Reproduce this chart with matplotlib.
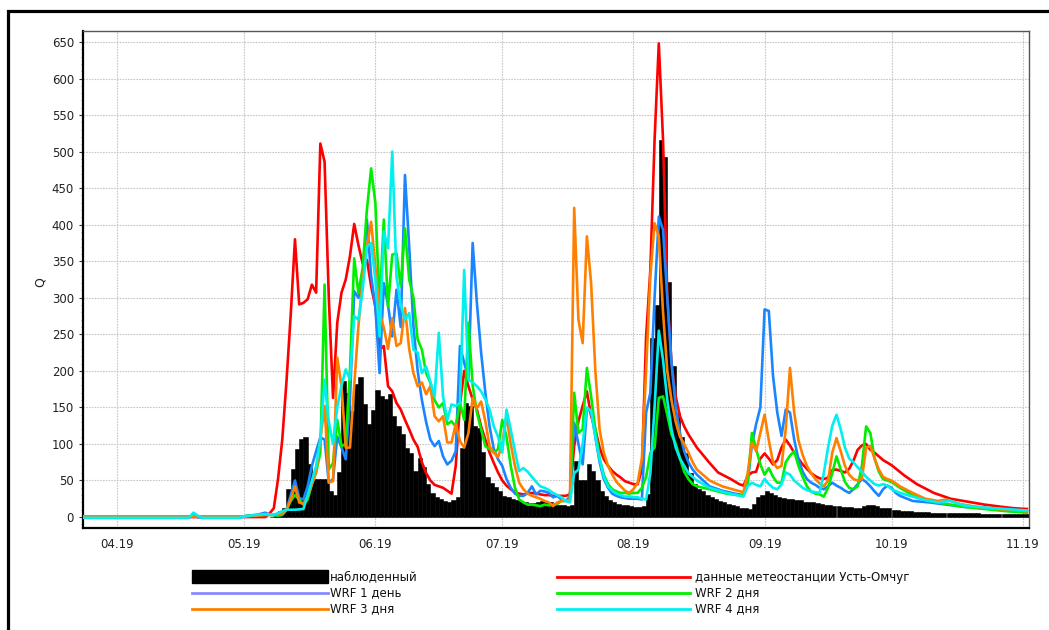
import numpy as np
import matplotlib
matplotlib.use('Agg')
import matplotlib.pyplot as plt
import matplotlib.dates as mdates
from matplotlib.patches import Rectangle
from matplotlib.lines import Line2D
from matplotlib.ticker import MultipleLocator

# ---------------- data (day offsets from 2019-04-01) ----------------
start_date = np.datetime64('2019-04-01')

obs_first_day = 36
obs_q = [0, 3, 8, 13, 38, 66, 93, 107, 110, 72, 52, 52, 52, 52, 35, 30, 62, 186, 170, 145,
         182, 192, 155, 127, 146, 174, 165, 161, 168, 138, 124, 113, 95, 88, 63, 81, 68, 45, 33, 28,
         24, 22, 21, 23, 27, 95, 156, 152, 124, 122, 89, 55, 46, 41, 36, 29, 27, 25, 23, 22,
         20, 19, 19, 20, 22, 21, 20, 18, 17, 17, 15, 16, 76, 51, 51, 72, 63, 51, 36, 29,
         23, 21, 18, 17, 16, 15, 14, 14, 15, 31, 245, 290, 516, 493, 322, 206, 143, 110, 88, 60,
         45, 38, 35, 30, 27, 24, 22, 20, 18, 17, 15, 13, 12, 11, 18, 28, 30, 36, 33, 30,
         28, 26, 25, 24, 23, 23, 21, 20, 20, 19, 18, 17, 16, 15, 15, 14, 14, 14, 13, 13,
         15, 16, 16, 15, 13, 12, 12, 9, 9, 8, 8, 8, 7, 7, 7, 7, 6, 6, 6, 6,
         6, 5, 5, 5, 5, 5, 5, 5, 4, 4, 4, 4, 4, 4, 4, 4, 4, 4, 4, 4]

red_days = [-8, 35, 36, 37, 38, 39, 40, 41, 42, 43, 44, 45, 46, 47, 48, 49, 50, 51, 52, 53, 54, 55, 56, 57, 58, 59,
            60, 61, 62, 63, 64, 65, 66, 67, 68, 69, 70, 71, 72, 73, 74, 75, 76, 77, 78, 79, 80, 81, 82, 83,
            84, 85, 86, 87, 88, 89, 90, 91, 92, 93, 94, 95, 96, 97, 98, 99, 100, 101, 102, 103, 104, 105, 106,
            107, 108, 109, 110, 111, 112, 113, 114, 115, 116, 117, 118, 119, 120, 121, 122, 123, 124, 125, 126,
            127, 128, 129, 130, 131, 132, 133, 134, 135, 136, 137, 138, 140, 142, 145, 147, 148, 149, 150, 151,
            152, 153, 154, 155, 156, 157, 158, 159, 160, 161, 162, 163, 164, 165, 166, 167, 168, 169, 170, 171,
            172, 173, 174, 175, 176, 177, 178, 179, 180, 181, 183, 186, 189, 193, 197, 201, 205, 209, 212, 215]
red_q = [0, 0, 5, 12, 52, 106, 186, 277, 380, 291, 293, 298, 318, 307, 511, 486, 300, 163, 266, 307, 325, 357, 401, 372, 347, 352,
         316, 288, 229, 234, 179, 172, 156, 147, 133, 120, 106, 96, 75, 60, 50, 44, 42, 40, 36, 32, 70, 154, 200, 179,
         161, 147, 124, 106, 88, 74, 61, 50, 43, 38, 34, 32, 31, 32, 33, 32, 31, 30, 30, 29, 29, 29, 29,
         31, 97, 131, 152, 172, 138, 120, 95, 79, 70, 63, 58, 54, 49, 47, 45, 45, 65, 247, 338,
         516, 648, 516, 306, 211, 165, 138, 124, 113, 104, 95, 88, 74, 61, 52, 45, 43, 56, 61, 62,
         80, 87, 80, 72, 78, 95, 106, 98, 88, 80, 72, 66, 60, 56, 53, 52, 54, 64, 65, 63,
         61, 66, 77, 92, 98, 100, 92, 88, 83, 78, 71, 57, 45, 33, 25, 21, 17, 14, 12, 11]

wrf1_days = [-8, 17, 18, 19, 20, 29, 30, 31, 33, 35, 36, 38, 39, 40, 41, 42, 43, 44, 45, 46, 47, 48, 49, 50, 51, 52, 53, 54,
             55, 56, 57, 58, 59, 60, 61, 62, 63, 64, 65, 66, 67, 68, 69, 70, 71, 72, 73, 74, 75, 76, 77, 78, 79, 80,
             81, 82, 83, 84, 85, 86, 87, 88, 89, 90, 91, 92, 93, 94, 95, 96, 97, 98, 99, 100, 101, 102, 103, 104,
             105, 106, 107, 108, 109, 110, 111, 112, 113, 114, 115, 116, 117, 118, 119, 120, 121, 122, 123, 124,
             125, 126, 127, 128, 129, 130, 131, 132, 133, 134, 135, 136, 137, 140, 143, 146, 148, 149, 150, 151,
             152, 153, 154, 155, 156, 157, 158, 159, 160, 161, 162, 163, 164, 165, 166, 167, 168, 169, 170, 171,
             172, 173, 174, 175, 176, 177, 178, 179, 180, 181, 182, 183, 184, 185, 188, 192, 196, 200, 205, 210, 215]
wrf1_q = [-1, -1, 4, 0, -1, -1, 1, 2, 3, 6, 3, 2, 3, 10, 30, 50, 26, 24, 42, 70, 90, 109, 106, 47, 52, 110, 95, 79,
          160, 309, 300, 320, 407, 330, 288, 197, 320, 290, 247, 311, 260, 468, 370, 261, 200, 160, 130, 106, 97, 104, 83, 72, 77, 90,
          234, 211, 190, 375, 293, 225, 170, 124, 93, 79, 70, 52, 40, 32, 29, 29, 33, 42, 31, 36, 35, 33, 27, 29,
          24, 22, 28, 129, 100, 72, 147, 145, 110, 75, 52, 40, 32, 29, 27, 26, 25, 25, 25, 24,
          143, 170, 300, 411, 393, 300, 211, 150, 115, 90, 75, 65, 58, 42, 36, 32, 30, 47, 99, 127,
          150, 284, 282, 193, 143, 111, 147, 143, 106, 79, 62, 52, 47, 44, 40, 38, 42, 47, 43, 40,
          36, 33, 38, 45, 52, 48, 42, 35, 29, 38, 43, 40, 33, 29, 22, 20, 17, 14, 12, 10, 8]

wrf2_days = [-8, 30, 32, 35, 37, 38, 39, 40, 41, 42, 43, 44, 45, 46, 47, 48, 49, 50, 51, 52, 53, 54, 55, 56, 57, 58, 59,
             60, 61, 62, 63, 64, 65, 66, 67, 68, 69, 70, 71, 72, 73, 74, 75, 76, 77, 78, 79, 80, 81, 82, 83, 84,
             85, 86, 87, 88, 89, 90, 91, 92, 93, 94, 95, 96, 97, 98, 99, 100, 101, 102, 103, 104, 105, 106, 107,
             108, 109, 110, 111, 112, 113, 114, 115, 116, 117, 118, 119, 120, 121, 122, 123, 124, 125, 126, 127,
             128, 129, 130, 131, 132, 133, 134, 135, 136, 137, 140, 144, 148, 149, 150, 151, 152, 153, 154, 155,
             156, 157, 158, 159, 160, 161, 162, 163, 164, 165, 166, 167, 168, 169, 170, 171, 172, 173, 174, 175,
             176, 177, 178, 179, 180, 181, 182, 183, 185, 188, 192, 196, 200, 205, 210, 215]
wrf2_q = [1, 1, 2, 3, 3, 2, 3, 10, 22, 30, 24, 17, 24, 45, 61, 88, 318, 65, 74, 133, 97, 100, 200, 354, 306, 341, 420,
          477, 430, 288, 407, 288, 359, 361, 316, 395, 325, 300, 243, 229, 197, 184, 160, 150, 156, 127, 131, 124, 156, 133, 266, 180,
          143, 120, 97, 93, 88, 93, 133, 110, 70, 40, 24, 20, 17, 17, 16, 15, 17, 16, 17, 18, 22, 22, 24,
          170, 115, 120, 204, 165, 120, 80, 58, 45, 38, 35, 33, 33, 32, 33, 33, 40, 55, 88, 95,
          163, 165, 140, 113, 100, 80, 62, 52, 45, 42, 38, 32, 29, 45, 115, 93, 72, 58, 67, 55,
          47, 47, 75, 84, 90, 70, 55, 42, 35, 32, 31, 28, 40, 60, 83, 65, 48, 40, 38, 42,
          70, 124, 115, 80, 62, 52, 50, 48, 40, 30, 22, 18, 14, 11, 8, 6]

wrf3_days = [-8, 30, 33, 35, 37, 39, 40, 41, 42, 43, 44, 45, 46, 47, 48, 49, 50, 51, 52, 53, 54, 55, 56, 57, 58, 59,
             60, 61, 62, 63, 64, 65, 66, 67, 68, 69, 70, 71, 72, 73, 74, 75, 76, 77, 78, 79, 80, 81, 82, 83, 84,
             85, 86, 87, 88, 89, 90, 91, 92, 93, 94, 95, 96, 97, 98, 99, 100, 101, 102, 103, 104, 105, 106, 107,
             108, 109, 110, 111, 112, 113, 114, 115, 116, 117, 118, 119, 120, 121, 122, 123, 124, 125, 126, 127,
             128, 129, 130, 131, 132, 133, 134, 135, 136, 137, 140, 143, 146, 148, 149, 150, 151, 152, 153, 154,
             155, 156, 157, 158, 159, 160, 161, 162, 163, 164, 165, 166, 167, 168, 169, 170, 171, 172, 173, 174,
             175, 176, 177, 178, 179, 180, 181, 182, 183, 185, 188, 191, 194, 196, 199, 203, 208, 215]
wrf3_q = [1, 1, 2, 3, 3, 5, 10, 24, 42, 20, 18, 28, 45, 61, 106, 152, 47, 49, 218, 179, 95, 95, 180, 261, 325, 370,
          404, 343, 280, 259, 230, 272, 234, 238, 286, 230, 197, 179, 184, 168, 179, 138, 131, 138, 102, 102, 127, 104, 95, 115, 163,
          149, 158, 131, 97, 88, 82, 100, 138, 100, 70, 47, 38, 32, 29, 27, 25, 22, 20, 15, 20, 22, 22, 24,
          423, 270, 238, 384, 320, 200, 120, 88, 70, 58, 48, 42, 36, 33, 38, 47, 80, 200, 330, 402,
          384, 280, 200, 160, 130, 110, 100, 88, 75, 65, 50, 42, 37, 34, 60, 102, 90, 115, 140, 105,
          75, 67, 70, 120, 204, 143, 105, 85, 70, 60, 52, 46, 42, 50, 88, 108, 90, 70, 58, 52,
          50, 52, 95, 97, 80, 65, 55, 52, 50, 42, 33, 25, 22, 24, 18, 14, 11, 8]

wrf4_days = [-8, 17, 18, 19, 20, 29, 30, 33, 35, 37, 39, 40, 42, 44, 45, 46, 47, 48, 49, 50, 51, 52, 53, 54, 55, 56, 57,
             58, 59, 60, 61, 62, 63, 64, 65, 66, 67, 68, 69, 70, 71, 72, 73, 74, 75, 76, 77, 78, 79, 80, 81, 82,
             83, 84, 85, 86, 87, 88, 89, 90, 91, 92, 93, 94, 95, 96, 97, 98, 99, 100, 101, 102, 103, 104, 105,
             106, 107, 108, 109, 110, 111, 112, 113, 114, 115, 116, 117, 118, 119, 120, 121, 122, 123, 124, 125,
             126, 127, 128, 129, 130, 131, 132, 133, 134, 135, 136, 137, 140, 144, 148, 149, 150, 151, 152, 153,
             154, 155, 156, 157, 158, 159, 160, 161, 162, 163, 164, 165, 166, 167, 168, 169, 170, 171, 172, 173,
             174, 175, 176, 177, 178, 179, 180, 181, 182, 183, 185, 188, 191, 194, 197, 200, 205, 210, 215]
wrf4_q = [-1, -1, 6, 2, -1, -1, 1, 3, 4, 3, 8, 10, 10, 11, 30, 50, 70, 106, 188, 130, 100, 150, 180, 202, 188, 275, 270,
          310, 370, 375, 325, 247, 391, 368, 500, 329, 290, 270, 279, 229, 225, 197, 206, 185, 165, 252, 165, 133, 154, 152, 156, 338,
          188, 184, 179, 172, 161, 147, 124, 110, 88, 147, 120, 90, 63, 67, 62, 55, 48, 42, 40, 37, 33, 30, 27,
          22, 20, 60, 65, 100, 150, 145, 110, 80, 55, 42, 36, 32, 30, 28, 28, 27, 27, 25, 24,
          60, 150, 255, 215, 160, 120, 95, 80, 70, 60, 55, 50, 40, 33, 28, 42, 47, 44, 42, 52,
          45, 40, 38, 45, 61, 58, 50, 45, 40, 37, 35, 34, 33, 60, 95, 125, 140, 120, 95, 80,
          75, 68, 62, 55, 50, 45, 43, 45, 43, 38, 33, 28, 23, 20, 22, 16, 13, 11, 9]

month_days = [0, 30, 61, 91, 122, 153, 183, 214]
month_labels = ['04.19', '05.19', '06.19', '07.19', '08.19', '09.19', '10.19', '11.19']

legend_labels = ['наблюденный', 'данные метеостанции Усть-Омчуг', 'WRF 1 день',
                 'WRF 2 дня', 'WRF 3 дня', 'WRF 4 дня']


def to_num(days):
    d = start_date + np.array(days, dtype='timedelta64[D]')
    return mdates.date2num(d)


# ---------------- figure ----------------
W, H = 1049, 630
fig = plt.figure(figsize=(W / 100, H / 100), dpi=100)
ax = fig.add_axes([83 / W, 1 - 528 / H, (1029 - 83) / W, (528 - 31) / H])

obs_days = list(range(obs_first_day, obs_first_day + len(obs_q)))
ax.bar(to_num(obs_days), obs_q, width=1.0, align='edge', color='black',
       edgecolor='black', linewidth=0.4, zorder=2)

lw = 1.9
ax.plot(to_num(red_days), red_q, color='#ff0000', lw=lw, zorder=3)
ax.plot(to_num(wrf1_days), wrf1_q, color='#1a85ff', lw=lw, zorder=4)
ax.plot(to_num(wrf2_days), wrf2_q, color='#00ee00', lw=lw, zorder=5)
ax.plot(to_num(wrf3_days), wrf3_q, color='#ff8000', lw=lw, zorder=6)
ax.plot(to_num(wrf4_days), wrf4_q, color='#00f0f0', lw=lw, zorder=7)

ax.set_xlim(to_num([-8])[0] - 0.1, to_num([215])[0] + 0.5)
ax.set_ylim(-15, 665)

ax.set_xticks(to_num(month_days))
ax.set_xticklabels(month_labels)
ax.yaxis.set_major_locator(MultipleLocator(50))
ax.yaxis.set_minor_locator(MultipleLocator(10))

ax.grid(True, which='major', color='#c8c8c8', linestyle=(0, (1.5, 1)), linewidth=0.8, zorder=0)
ax.set_axisbelow(True)

ax.tick_params(axis='both', which='major', labelsize=8.5, labelcolor='#222222', color='#333333',
               length=3, width=0.8)
ax.tick_params(axis='x', which='major', length=0, pad=7)
ax.tick_params(axis='y', which='minor', length=1.5, width=0.6, color='#888888')

for side in ['left', 'bottom']:
    ax.spines[side].set_color('black')
    ax.spines[side].set_linewidth(1.6)
for side in ['top', 'right']:
    ax.spines[side].set_color('#555555')
    ax.spines[side].set_linewidth(1.0)

fig.text(40 / W, 1 - 282 / H, 'Q', rotation=90, ha='center', va='center', fontsize=9, color='#222222')

# outer frame
fig.add_artist(Rectangle((8 / W, -0.3), 1.5, (1 - 11 / H) + 0.3, transform=fig.transFigure,
                         fill=False, edgecolor='black', linewidth=2.3))

# legend (manual layout)
def fx(px):
    return px / W


def fy(py):
    return 1 - py / H


rows = [577, 593, 609]
fig.add_artist(Rectangle((fx(192), fy(583)), fx(328) - fx(192), (583 - 570) / H,
                         transform=fig.transFigure, color='black'))
handles = [
    (557, 690, rows[0], '#ff0000'),
    (192, 328, rows[1], '#8a8aff'),
    (557, 690, rows[1], '#00ee00'),
    (192, 328, rows[2], '#ff8000'),
    (557, 690, rows[2], '#00f0f0'),
]
for x0, x1, yy, c in handles:
    fig.add_artist(Line2D([fx(x0), fx(x1)], [fy(yy), fy(yy)], transform=fig.transFigure,
                          color=c, linewidth=2.0))
text_pos = [(330, rows[0]), (695, rows[0]), (330, rows[1]), (695, rows[1]), (330, rows[2]), (695, rows[2])]
for (tx, ty), lab in zip(text_pos, legend_labels):
    fig.text(fx(tx), fy(ty), lab, ha='left', va='center', fontsize=8.5, color='#111111')

fig.savefig('out.png', dpi=100)
